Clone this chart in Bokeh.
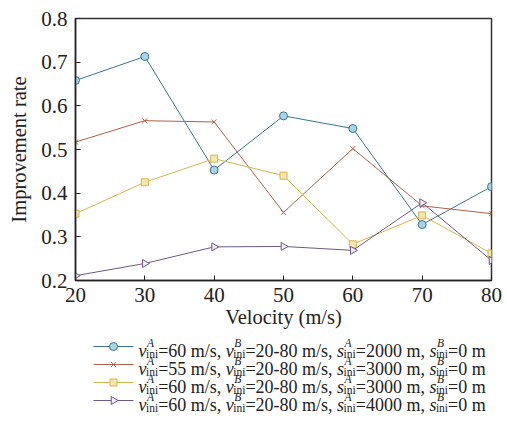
import numpy as np
from bokeh.plotting import figure
from bokeh.layouts import column
from bokeh.models import Range1d, FixedTicker, ColumnDataSource
from bokeh.core.properties import value
from bokeh.embed import file_html
from bokeh.resources import INLINE

# ---- data ----
velocity = [20, 30, 40, 50, 60, 70, 80]
rate_a60_s2000 = [0.658, 0.713, 0.453, 0.577, 0.548, 0.328, 0.415]
rate_a55_s3000 = [0.517, 0.566, 0.563, 0.356, 0.502, 0.371, 0.353]
rate_a60_s3000 = [0.353, 0.425, 0.479, 0.440, 0.283, 0.349, 0.262]
rate_a60_s4000 = [0.211, 0.239, 0.277, 0.278, 0.269, 0.378, 0.246]
x_ticks = [20, 30, 40, 50, 60, 70, 80]
y_ticks = [0.2, 0.3, 0.4, 0.5, 0.6, 0.7, 0.8]
vA_vals = ["60", "55", "60", "60"]
sA_vals = ["2000", "3000", "3000", "4000"]

FONT = "Liberation Serif"

series = [
    dict(y=rate_a60_s2000, color="#3d7391", fill="#a9d4e4", marker="circle", size=8, angle=0.0),
    dict(y=rate_a55_s3000, color="#b0604a", fill="#b0604a", marker="x", size=7, angle=0.0),
    dict(y=rate_a60_s3000, color="#d6b64c", fill="#f3e6b0", marker="square", size=7, angle=0.0),
    dict(y=rate_a60_s4000, color="#6b5a85", fill="#f1edf5", marker="triangle", size=8, angle=-np.pi / 2),
]

W = 507
BL, BR = 75, 16          # left / right borders (frame from 75 to 491)
MAIN_H = 334
LEG_H = 429 - MAIN_H

p = figure(width=W, height=MAIN_H, x_range=Range1d(20, 80), y_range=Range1d(0.2, 0.8),
           output_backend="svg", toolbar_location=None,
           min_border_left=BL, min_border_right=BR, min_border_top=18, min_border_bottom=54)
p.xgrid.visible = False
p.ygrid.visible = False
p.background_fill_color = "white"
p.border_fill_color = "white"
p.outline_line_color = "#333333"
p.outline_line_width = 1.5

for ax in (p.xaxis[0], p.yaxis[0]):
    ax.major_tick_in = 5
    ax.major_tick_out = 0
    ax.minor_tick_line_color = None
    ax.axis_line_color = "#222222"
    ax.axis_line_width = 1.5
    ax.major_tick_line_color = "#222222"
    ax.major_label_text_font = FONT
    ax.major_label_text_font_size = "21px"
    ax.major_label_text_color = "#222222"
    ax.axis_label_text_font = FONT
    ax.axis_label_text_font_size = "20.5px"
    ax.axis_label_text_font_style = "normal"
    ax.axis_label_text_color = "#222222"

p.xaxis.ticker = FixedTicker(ticks=x_ticks)
p.yaxis.ticker = FixedTicker(ticks=y_ticks)
p.xaxis.major_label_standoff = 7
p.yaxis.major_label_standoff = 8
p.xaxis.axis_label = "Velocity (m/s)"
p.yaxis.axis_label = "Improvement rate"
p.xaxis.axis_label_standoff = 1
p.yaxis.axis_label_standoff = 8

for s in series:
    p.line(velocity, s["y"], line_color=s["color"], line_width=1)
    p.scatter(velocity, s["y"], marker=s["marker"], size=s["size"], angle=s["angle"],
              line_color=s["color"], fill_color=s["fill"], line_width=1)

# ---- legend figure: page-pixel coordinates (frame 75..491 wide, y downward) ----
leg = figure(width=W, height=LEG_H, x_range=Range1d(BL, W - BR),
             y_range=Range1d(MAIN_H + LEG_H, MAIN_H),
             output_backend="svg", toolbar_location=None,
             min_border_left=BL, min_border_right=BR, min_border_top=0, min_border_bottom=0)
leg.axis.visible = False
leg.xgrid.visible = False
leg.ygrid.visible = False
leg.outline_line_color = None
leg.background_fill_color = "white"
leg.border_fill_color = "white"

REG = {'0': .5, '1': .5, '2': .5, '3': .5, '4': .5, '5': .5, '6': .5, '7': .5, '8': .5, '9': .5,
       ' ': .25, '=': .564, 'm': .778, '/': .278, 's': .389, ',': .25, '-': .333, 'i': .278, 'n': .5}
ITA = {'v': .444, 's': .389, 'A': .611, 'B': .611}
MAIN = 18.0
SUB = 11.5

def tw(t, table, size):
    return sum(table.get(c, .5) for c in t) * size

groups = {}

def add(style, size, x, y, t):
    g = groups.setdefault((style, size), dict(x=[], y=[], text=[]))
    g["x"].append(x)
    g["y"].append(y)
    g["text"].append(t)

x0_line, x1_line, xm = 93, 133, 113
x_text = 138
for i, s in enumerate(series):
    base = 350 + 18 * i
    cy = base - 4
    leg.line([x0_line, x1_line], [cy, cy], line_color=s["color"], line_width=1)
    leg.scatter([xm], [cy], marker=s["marker"], size=s["size"], angle=s["angle"],
                line_color=s["color"], fill_color=s["fill"], line_width=1)
    pieces = [("v", "A", "=%s m/s, " % vA_vals[i]),
              ("v", "B", "=20-80 m/s, "),
              ("s", "A", "=%s m, " % sA_vals[i]),
              ("s", "B", "=0 m")]
    x = x_text
    for sym, sup, rest in pieces:
        add("italic", MAIN, x, base, sym)
        x += tw(sym, ITA, MAIN)
        add("italic", SUB, x + 0.5, base - 7.5, sup)
        add("normal", SUB, x - 0.5, base + 3, "ini")
        x += max(tw("ini", REG, SUB), tw(sup, ITA, SUB)) - 0.5
        add("normal", MAIN, x, base, rest)
        x += tw(rest, REG, MAIN)

for (style, size), g in groups.items():
    leg.text(x="x", y="y", text="text", source=ColumnDataSource(g),
             text_font=value(FONT), text_font_style=style, text_font_size="%.1fpx" % size,
             text_color="#222222", text_baseline="alphabetic", text_align="left")

layout = column(p, leg, spacing=0)
open("out.html", "w").write(file_html(layout, INLINE))
